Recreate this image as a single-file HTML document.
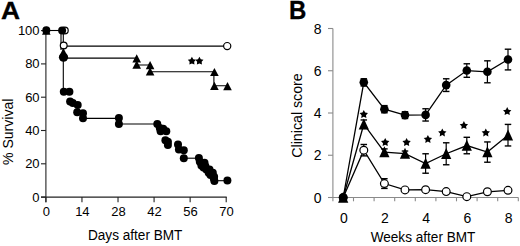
<!DOCTYPE html>
<html><head><meta charset="utf-8"><style>
html,body{margin:0;padding:0;background:#fff;width:520px;height:246px;overflow:hidden}
svg{display:block}
text{font-family:"Liberation Sans",sans-serif;fill:#000}
.t{font-size:13px}
.tl{font-size:13.6px}
.big{font-size:24px;font-weight:bold}
.star{font-size:11px}
</style></head><body>
<svg width="520" height="246" viewBox="0 0 520 246">
<line x1="45.9" y1="30.599999999999994" x2="45.9" y2="202.2" stroke="#222" stroke-width="1.1"/>
<line x1="41" y1="197.1" x2="226.70000000000002" y2="197.1" stroke="#222" stroke-width="1.1"/>
<line x1="41" y1="197.10" x2="45.9" y2="197.10" stroke="#222" stroke-width="1.1"/>
<text x="39.6" y="201.50" text-anchor="end" class="t">0</text>
<line x1="41" y1="163.80" x2="45.9" y2="163.80" stroke="#222" stroke-width="1.1"/>
<text x="39.6" y="168.20" text-anchor="end" class="t">20</text>
<line x1="41" y1="130.50" x2="45.9" y2="130.50" stroke="#222" stroke-width="1.1"/>
<text x="39.6" y="134.90" text-anchor="end" class="t">40</text>
<line x1="41" y1="97.20" x2="45.9" y2="97.20" stroke="#222" stroke-width="1.1"/>
<text x="39.6" y="101.60" text-anchor="end" class="t">60</text>
<line x1="41" y1="63.90" x2="45.9" y2="63.90" stroke="#222" stroke-width="1.1"/>
<text x="39.6" y="68.30" text-anchor="end" class="t">80</text>
<line x1="41" y1="30.60" x2="45.9" y2="30.60" stroke="#222" stroke-width="1.1"/>
<text x="39.6" y="35.00" text-anchor="end" class="t">100</text>
<line x1="45.90" y1="197.1" x2="45.90" y2="202.2" stroke="#222" stroke-width="1.1"/>
<text x="46.30" y="216.4" text-anchor="middle" class="t">0</text>
<line x1="81.96" y1="197.1" x2="81.96" y2="202.2" stroke="#222" stroke-width="1.1"/>
<text x="82.36" y="216.4" text-anchor="middle" class="t">14</text>
<line x1="118.02" y1="197.1" x2="118.02" y2="202.2" stroke="#222" stroke-width="1.1"/>
<text x="118.42" y="216.4" text-anchor="middle" class="t">28</text>
<line x1="154.08" y1="197.1" x2="154.08" y2="202.2" stroke="#222" stroke-width="1.1"/>
<text x="154.48" y="216.4" text-anchor="middle" class="t">42</text>
<line x1="190.14" y1="197.1" x2="190.14" y2="202.2" stroke="#222" stroke-width="1.1"/>
<text x="190.54" y="216.4" text-anchor="middle" class="t">56</text>
<line x1="226.20" y1="197.1" x2="226.20" y2="202.2" stroke="#222" stroke-width="1.1"/>
<text x="226.60" y="216.4" text-anchor="middle" class="t">70</text>
<text transform="translate(135.2,239.6) scale(1,1.07)" text-anchor="middle" class="tl">Days after BMT</text>
<text transform="translate(13.4,131.8) rotate(-90) scale(1,1.05)" text-anchor="middle" class="tl" style="font-size:14.1px">% Survival</text>
<text transform="translate(0.9,18.6) scale(1.1,1.03)" class="big" stroke="#000" stroke-width="0.3">A</text>
<polyline points="46.00,30.50 63.10,30.50" fill="none" stroke="#000" stroke-width="1.1"/>
<polyline points="63.30,30.50 63.30,91.70" fill="none" stroke="#000" stroke-width="1.1"/>
<polyline points="61.00,30.50 61.00,50.00" fill="none" stroke="#000" stroke-width="1.1"/>
<polyline points="63.70,46.10 227.00,46.10" fill="none" stroke="#000" stroke-width="1.1"/>
<polyline points="63.10,58.10 136.70,58.10 136.70,65.00 150.10,65.00 150.10,71.70 213.90,71.70 213.90,85.80 227.30,85.80" fill="none" stroke="#000" stroke-width="1.1"/>
<polyline points="83.00,118.40 118.90,118.40" fill="none" stroke="#000" stroke-width="1.1"/>
<polyline points="118.90,124.00 157.30,124.00" fill="none" stroke="#000" stroke-width="1.1"/>
<polyline points="183.80,158.20 198.90,158.20" fill="none" stroke="#000" stroke-width="1.1"/>
<polyline points="214.40,180.70 227.40,180.70" fill="none" stroke="#000" stroke-width="1.1"/>
<circle cx="64.8" cy="30.5" r="3.4" fill="#fff" stroke="#000" stroke-width="1.2"/>
<circle cx="63.7" cy="45.5" r="3.4" fill="#fff" stroke="#000" stroke-width="1.2"/>
<circle cx="227.2" cy="46.1" r="3.6" fill="#fff" stroke="#000" stroke-width="1.2"/>
<polygon points="42.00,34.80 50.60,34.80 46.30,26.60" fill="#000"/>
<polygon points="58.90,57.20 67.90,57.20 63.40,47.80" fill="#000"/>
<polygon points="132.40,62.50 141.00,62.50 136.70,54.30" fill="#000"/>
<polygon points="132.40,68.70 141.00,68.70 136.70,60.50" fill="#000"/>
<polygon points="145.80,69.30 154.40,69.30 150.10,61.10" fill="#000"/>
<polygon points="145.80,75.40 154.40,75.40 150.10,67.20" fill="#000"/>
<polygon points="210.10,76.10 218.70,76.10 214.40,67.90" fill="#000"/>
<polygon points="210.10,90.00 218.70,90.00 214.40,81.80" fill="#000"/>
<polygon points="223.20,90.30 231.80,90.30 227.50,82.10" fill="#000"/>
<circle cx="46.3" cy="30.2" r="4.0" fill="#000"/>
<circle cx="62.1" cy="30.5" r="4.0" fill="#000"/>
<circle cx="63.8" cy="91.7" r="4.0" fill="#000"/>
<circle cx="69.4" cy="91.7" r="4.0" fill="#000"/>
<circle cx="70.1" cy="101.5" r="4.0" fill="#000"/>
<circle cx="72.8" cy="103" r="4.0" fill="#000"/>
<circle cx="77.7" cy="105.1" r="4.0" fill="#000"/>
<circle cx="77.2" cy="112.2" r="4.0" fill="#000"/>
<circle cx="83" cy="113.3" r="4.0" fill="#000"/>
<circle cx="83" cy="118.3" r="4.0" fill="#000"/>
<circle cx="118.9" cy="118.1" r="4.0" fill="#000"/>
<circle cx="118.9" cy="123.9" r="4.0" fill="#000"/>
<circle cx="157.3" cy="124" r="4.0" fill="#000"/>
<circle cx="159.8" cy="128" r="4.0" fill="#000"/>
<circle cx="160.6" cy="131.3" r="4.0" fill="#000"/>
<circle cx="163.2" cy="128.8" r="4.0" fill="#000"/>
<circle cx="166.3" cy="131.3" r="4.0" fill="#000"/>
<circle cx="165.4" cy="140.2" r="4.0" fill="#000"/>
<circle cx="167.9" cy="141.8" r="4.0" fill="#000"/>
<circle cx="167.9" cy="145" r="4.0" fill="#000"/>
<circle cx="178.0" cy="144.6" r="4.0" fill="#000"/>
<circle cx="178.9" cy="149.5" r="4.0" fill="#000"/>
<circle cx="183.8" cy="150.2" r="4.0" fill="#000"/>
<circle cx="183.8" cy="158.3" r="4.0" fill="#000"/>
<circle cx="198.9" cy="158.1" r="4.0" fill="#000"/>
<circle cx="199.8" cy="161.7" r="4.0" fill="#000"/>
<circle cx="201.4" cy="165.4" r="4.0" fill="#000"/>
<circle cx="203.5" cy="167.5" r="4.0" fill="#000"/>
<circle cx="205.4" cy="166.3" r="4.0" fill="#000"/>
<circle cx="206.3" cy="169.5" r="4.0" fill="#000"/>
<circle cx="204.5" cy="162.8" r="4.0" fill="#000"/>
<circle cx="209.5" cy="169.5" r="4.0" fill="#000"/>
<circle cx="208.7" cy="172.8" r="4.0" fill="#000"/>
<circle cx="210.5" cy="175" r="4.0" fill="#000"/>
<circle cx="212.8" cy="172.8" r="4.0" fill="#000"/>
<circle cx="213.8" cy="178.5" r="4.0" fill="#000"/>
<circle cx="214.1" cy="176.8" r="4.0" fill="#000"/>
<circle cx="214.4" cy="180.9" r="4.0" fill="#000"/>
<circle cx="227.4" cy="180.6" r="4.0" fill="#000"/>
<circle cx="63.5" cy="57.2" r="4.6" fill="#000"/>
<polygon points="191.90,56.81 193.29,59.20 195.99,59.78 194.15,61.84 194.43,64.59 191.90,63.48 189.37,64.59 189.65,61.84 187.81,59.78 190.51,59.20" fill="#000"/>
<polygon points="199.40,56.81 200.79,59.20 203.49,59.78 201.65,61.84 201.93,64.59 199.40,63.48 196.87,64.59 197.15,61.84 195.31,59.78 198.01,59.20" fill="#000"/>
<line x1="332.9" y1="28.5" x2="332.9" y2="201.3" stroke="#8a8a8a" stroke-width="1.1"/>
<line x1="328" y1="197.5" x2="518.3" y2="197.5" stroke="#8a8a8a" stroke-width="1.1"/>
<line x1="328" y1="197.50" x2="332.9" y2="197.50" stroke="#8a8a8a" stroke-width="1.1"/>
<text x="321.6" y="202.60" text-anchor="end" class="t" style="font-size:14px">0</text>
<line x1="328" y1="155.25" x2="332.9" y2="155.25" stroke="#8a8a8a" stroke-width="1.1"/>
<text x="321.6" y="160.35" text-anchor="end" class="t" style="font-size:14px">2</text>
<line x1="328" y1="113.00" x2="332.9" y2="113.00" stroke="#8a8a8a" stroke-width="1.1"/>
<text x="321.6" y="118.10" text-anchor="end" class="t" style="font-size:14px">4</text>
<line x1="328" y1="70.75" x2="332.9" y2="70.75" stroke="#8a8a8a" stroke-width="1.1"/>
<text x="321.6" y="75.85" text-anchor="end" class="t" style="font-size:14px">6</text>
<line x1="328" y1="28.50" x2="332.9" y2="28.50" stroke="#8a8a8a" stroke-width="1.1"/>
<text x="321.6" y="33.60" text-anchor="end" class="t" style="font-size:14px">8</text>
<line x1="353.50" y1="197.5" x2="353.50" y2="201.3" stroke="#8a8a8a" stroke-width="1.1"/>
<line x1="374.10" y1="197.5" x2="374.10" y2="201.3" stroke="#8a8a8a" stroke-width="1.1"/>
<line x1="394.70" y1="197.5" x2="394.70" y2="201.3" stroke="#8a8a8a" stroke-width="1.1"/>
<line x1="415.30" y1="197.5" x2="415.30" y2="201.3" stroke="#8a8a8a" stroke-width="1.1"/>
<line x1="435.90" y1="197.5" x2="435.90" y2="201.3" stroke="#8a8a8a" stroke-width="1.1"/>
<line x1="456.50" y1="197.5" x2="456.50" y2="201.3" stroke="#8a8a8a" stroke-width="1.1"/>
<line x1="477.10" y1="197.5" x2="477.10" y2="201.3" stroke="#8a8a8a" stroke-width="1.1"/>
<line x1="497.70" y1="197.5" x2="497.70" y2="201.3" stroke="#8a8a8a" stroke-width="1.1"/>
<line x1="518.30" y1="197.5" x2="518.30" y2="201.3" stroke="#8a8a8a" stroke-width="1.1"/>
<text transform="translate(343.80,223.0) scale(1,1.03)" text-anchor="middle" class="t" style="font-size:14px">0</text>
<text transform="translate(385.00,223.0) scale(1,1.03)" text-anchor="middle" class="t" style="font-size:14px">2</text>
<text transform="translate(426.20,223.0) scale(1,1.03)" text-anchor="middle" class="t" style="font-size:14px">4</text>
<text transform="translate(467.40,223.0) scale(1,1.03)" text-anchor="middle" class="t" style="font-size:14px">6</text>
<text transform="translate(508.60,223.0) scale(1,1.03)" text-anchor="middle" class="t" style="font-size:14px">8</text>
<text transform="translate(423,242) scale(1,1.07)" text-anchor="middle" class="tl">Weeks after BMT</text>
<text transform="translate(302.2,115.5) rotate(-90) scale(1,1.07)" text-anchor="middle" class="tl" style="font-size:14.2px">Clinical score</text>
<text transform="translate(289.1,18.7) scale(1,1.05)" class="big" stroke="#000" stroke-width="0.3">B</text>
<polyline points="343.20,197.50 363.80,150.18 384.40,183.56 405.00,189.90 425.60,189.68 446.20,191.59 466.80,196.66 487.40,191.80 508.00,190.32" fill="none" stroke="#000" stroke-width="1.3"/>
<polyline points="343.20,197.50 363.80,124.20 384.40,152.08 405.00,153.56 425.60,163.49 446.20,153.77 466.80,145.53 487.40,152.08 508.00,135.18" fill="none" stroke="#000" stroke-width="1.3"/>
<polyline points="343.20,197.50 363.80,82.37 384.40,109.20 405.00,115.11 425.60,114.90 446.20,85.11 466.80,70.54 487.40,71.81 508.00,59.55" fill="none" stroke="#000" stroke-width="1.3"/>
<line x1="363.80" y1="144.48" x2="363.80" y2="155.88" stroke="#000" stroke-width="1.2"/>
<line x1="360.55" y1="144.48" x2="367.05" y2="144.48" stroke="#000" stroke-width="1.4"/>
<line x1="360.55" y1="155.88" x2="367.05" y2="155.88" stroke="#000" stroke-width="1.4"/>
<line x1="384.40" y1="178.70" x2="384.40" y2="188.42" stroke="#000" stroke-width="1.2"/>
<line x1="381.15" y1="178.70" x2="387.65" y2="178.70" stroke="#000" stroke-width="1.4"/>
<line x1="381.15" y1="188.42" x2="387.65" y2="188.42" stroke="#000" stroke-width="1.4"/>
<line x1="405.00" y1="188.84" x2="405.00" y2="190.95" stroke="#000" stroke-width="1.2"/>
<line x1="401.75" y1="188.84" x2="408.25" y2="188.84" stroke="#000" stroke-width="1.4"/>
<line x1="401.75" y1="190.95" x2="408.25" y2="190.95" stroke="#000" stroke-width="1.4"/>
<line x1="425.60" y1="188.63" x2="425.60" y2="190.74" stroke="#000" stroke-width="1.2"/>
<line x1="422.35" y1="188.63" x2="428.85" y2="188.63" stroke="#000" stroke-width="1.4"/>
<line x1="422.35" y1="190.74" x2="428.85" y2="190.74" stroke="#000" stroke-width="1.4"/>
<line x1="446.20" y1="190.53" x2="446.20" y2="192.64" stroke="#000" stroke-width="1.2"/>
<line x1="442.95" y1="190.53" x2="449.45" y2="190.53" stroke="#000" stroke-width="1.4"/>
<line x1="442.95" y1="192.64" x2="449.45" y2="192.64" stroke="#000" stroke-width="1.4"/>
<line x1="466.80" y1="195.60" x2="466.80" y2="197.71" stroke="#000" stroke-width="1.2"/>
<line x1="463.55" y1="195.60" x2="470.05" y2="195.60" stroke="#000" stroke-width="1.4"/>
<line x1="463.55" y1="197.71" x2="470.05" y2="197.71" stroke="#000" stroke-width="1.4"/>
<line x1="487.40" y1="190.74" x2="487.40" y2="192.85" stroke="#000" stroke-width="1.2"/>
<line x1="484.15" y1="190.74" x2="490.65" y2="190.74" stroke="#000" stroke-width="1.4"/>
<line x1="484.15" y1="192.85" x2="490.65" y2="192.85" stroke="#000" stroke-width="1.4"/>
<line x1="508.00" y1="189.26" x2="508.00" y2="191.37" stroke="#000" stroke-width="1.2"/>
<line x1="504.75" y1="189.26" x2="511.25" y2="189.26" stroke="#000" stroke-width="1.4"/>
<line x1="504.75" y1="191.37" x2="511.25" y2="191.37" stroke="#000" stroke-width="1.4"/>
<circle cx="343.2" cy="197.5" r="3.9" fill="#fff" stroke="#000" stroke-width="1.2"/>
<circle cx="363.79999999999995" cy="150.18" r="3.9" fill="#fff" stroke="#000" stroke-width="1.2"/>
<circle cx="384.4" cy="183.5575" r="3.9" fill="#fff" stroke="#000" stroke-width="1.2"/>
<circle cx="405.0" cy="189.895" r="3.9" fill="#fff" stroke="#000" stroke-width="1.2"/>
<circle cx="425.59999999999997" cy="189.68375" r="3.9" fill="#fff" stroke="#000" stroke-width="1.2"/>
<circle cx="446.2" cy="191.585" r="3.9" fill="#fff" stroke="#000" stroke-width="1.2"/>
<circle cx="466.79999999999995" cy="196.655" r="3.9" fill="#fff" stroke="#000" stroke-width="1.2"/>
<circle cx="487.4" cy="191.79625" r="3.9" fill="#fff" stroke="#000" stroke-width="1.2"/>
<circle cx="508.0" cy="190.3175" r="3.9" fill="#fff" stroke="#000" stroke-width="1.2"/>
<polygon points="338.10,202.70 348.30,202.70 343.20,191.70" fill="#000"/>
<line x1="363.80" y1="119.97" x2="363.80" y2="128.42" stroke="#000" stroke-width="1.2"/>
<line x1="360.55" y1="119.97" x2="367.05" y2="119.97" stroke="#000" stroke-width="1.4"/>
<line x1="360.55" y1="128.42" x2="367.05" y2="128.42" stroke="#000" stroke-width="1.4"/>
<polygon points="358.70,129.40 368.90,129.40 363.80,118.40" fill="#000"/>
<line x1="384.40" y1="148.91" x2="384.40" y2="155.25" stroke="#000" stroke-width="1.2"/>
<line x1="381.15" y1="148.91" x2="387.65" y2="148.91" stroke="#000" stroke-width="1.4"/>
<line x1="381.15" y1="155.25" x2="387.65" y2="155.25" stroke="#000" stroke-width="1.4"/>
<polygon points="379.30,157.28 389.50,157.28 384.40,146.28" fill="#000"/>
<line x1="405.00" y1="151.03" x2="405.00" y2="156.09" stroke="#000" stroke-width="1.2"/>
<line x1="401.75" y1="151.03" x2="408.25" y2="151.03" stroke="#000" stroke-width="1.4"/>
<line x1="401.75" y1="156.09" x2="408.25" y2="156.09" stroke="#000" stroke-width="1.4"/>
<polygon points="399.90,158.76 410.10,158.76 405.00,147.76" fill="#000"/>
<line x1="425.60" y1="153.77" x2="425.60" y2="173.21" stroke="#000" stroke-width="1.2"/>
<line x1="422.35" y1="153.77" x2="428.85" y2="153.77" stroke="#000" stroke-width="1.4"/>
<line x1="422.35" y1="173.21" x2="428.85" y2="173.21" stroke="#000" stroke-width="1.4"/>
<polygon points="420.50,168.69 430.70,168.69 425.60,157.69" fill="#000"/>
<line x1="446.20" y1="142.79" x2="446.20" y2="164.76" stroke="#000" stroke-width="1.2"/>
<line x1="442.95" y1="142.79" x2="449.45" y2="142.79" stroke="#000" stroke-width="1.4"/>
<line x1="442.95" y1="164.76" x2="449.45" y2="164.76" stroke="#000" stroke-width="1.4"/>
<polygon points="441.10,158.97 451.30,158.97 446.20,147.97" fill="#000"/>
<line x1="466.80" y1="137.29" x2="466.80" y2="153.77" stroke="#000" stroke-width="1.2"/>
<line x1="463.55" y1="137.29" x2="470.05" y2="137.29" stroke="#000" stroke-width="1.4"/>
<line x1="463.55" y1="153.77" x2="470.05" y2="153.77" stroke="#000" stroke-width="1.4"/>
<polygon points="461.70,150.73 471.90,150.73 466.80,139.73" fill="#000"/>
<line x1="487.40" y1="141.94" x2="487.40" y2="162.22" stroke="#000" stroke-width="1.2"/>
<line x1="484.15" y1="141.94" x2="490.65" y2="141.94" stroke="#000" stroke-width="1.4"/>
<line x1="484.15" y1="162.22" x2="490.65" y2="162.22" stroke="#000" stroke-width="1.4"/>
<polygon points="482.30,157.28 492.50,157.28 487.40,146.28" fill="#000"/>
<line x1="508.00" y1="124.41" x2="508.00" y2="145.96" stroke="#000" stroke-width="1.2"/>
<line x1="504.75" y1="124.41" x2="511.25" y2="124.41" stroke="#000" stroke-width="1.4"/>
<line x1="504.75" y1="145.96" x2="511.25" y2="145.96" stroke="#000" stroke-width="1.4"/>
<polygon points="502.90,140.38 513.10,140.38 508.00,129.38" fill="#000"/>
<circle cx="343.2" cy="197.5" r="4.3" fill="#000"/>
<line x1="363.80" y1="78.78" x2="363.80" y2="85.96" stroke="#000" stroke-width="1.2"/>
<line x1="360.55" y1="78.78" x2="367.05" y2="78.78" stroke="#000" stroke-width="1.4"/>
<line x1="360.55" y1="85.96" x2="367.05" y2="85.96" stroke="#000" stroke-width="1.4"/>
<circle cx="363.79999999999995" cy="82.36874999999999" r="4.3" fill="#000"/>
<line x1="384.40" y1="105.61" x2="384.40" y2="112.79" stroke="#000" stroke-width="1.2"/>
<line x1="381.15" y1="105.61" x2="387.65" y2="105.61" stroke="#000" stroke-width="1.4"/>
<line x1="381.15" y1="112.79" x2="387.65" y2="112.79" stroke="#000" stroke-width="1.4"/>
<circle cx="384.4" cy="109.1975" r="4.3" fill="#000"/>
<line x1="405.00" y1="111.73" x2="405.00" y2="118.49" stroke="#000" stroke-width="1.2"/>
<line x1="401.75" y1="111.73" x2="408.25" y2="111.73" stroke="#000" stroke-width="1.4"/>
<line x1="401.75" y1="118.49" x2="408.25" y2="118.49" stroke="#000" stroke-width="1.4"/>
<circle cx="405.0" cy="115.1125" r="4.3" fill="#000"/>
<line x1="425.60" y1="108.77" x2="425.60" y2="121.03" stroke="#000" stroke-width="1.2"/>
<line x1="422.35" y1="108.77" x2="428.85" y2="108.77" stroke="#000" stroke-width="1.4"/>
<line x1="422.35" y1="121.03" x2="428.85" y2="121.03" stroke="#000" stroke-width="1.4"/>
<circle cx="425.59999999999997" cy="114.90124999999999" r="4.3" fill="#000"/>
<line x1="446.20" y1="78.78" x2="446.20" y2="91.45" stroke="#000" stroke-width="1.2"/>
<line x1="442.95" y1="78.78" x2="449.45" y2="78.78" stroke="#000" stroke-width="1.4"/>
<line x1="442.95" y1="91.45" x2="449.45" y2="91.45" stroke="#000" stroke-width="1.4"/>
<circle cx="446.2" cy="85.115" r="4.3" fill="#000"/>
<line x1="466.80" y1="63.78" x2="466.80" y2="77.30" stroke="#000" stroke-width="1.2"/>
<line x1="463.55" y1="63.78" x2="470.05" y2="63.78" stroke="#000" stroke-width="1.4"/>
<line x1="463.55" y1="77.30" x2="470.05" y2="77.30" stroke="#000" stroke-width="1.4"/>
<circle cx="466.79999999999995" cy="70.53875000000001" r="4.3" fill="#000"/>
<line x1="487.40" y1="60.82" x2="487.40" y2="82.79" stroke="#000" stroke-width="1.2"/>
<line x1="484.15" y1="60.82" x2="490.65" y2="60.82" stroke="#000" stroke-width="1.4"/>
<line x1="484.15" y1="82.79" x2="490.65" y2="82.79" stroke="#000" stroke-width="1.4"/>
<circle cx="487.4" cy="71.80624999999999" r="4.3" fill="#000"/>
<line x1="508.00" y1="49.20" x2="508.00" y2="69.91" stroke="#000" stroke-width="1.2"/>
<line x1="504.75" y1="49.20" x2="511.25" y2="49.20" stroke="#000" stroke-width="1.4"/>
<line x1="504.75" y1="69.91" x2="511.25" y2="69.91" stroke="#000" stroke-width="1.4"/>
<circle cx="508.0" cy="59.55375000000001" r="4.3" fill="#000"/>
<polygon points="363.80,110.02 365.14,112.57 367.98,113.06 365.98,115.13 366.39,117.98 363.80,116.71 361.21,117.98 361.62,115.13 359.62,113.06 362.46,112.57" fill="#000"/>
<polygon points="385.20,138.02 386.54,140.57 389.38,141.06 387.38,143.13 387.79,145.98 385.20,144.71 382.61,145.98 383.02,143.13 381.02,141.06 383.86,140.57" fill="#000"/>
<polygon points="406.60,138.02 407.94,140.57 410.78,141.06 408.78,143.13 409.19,145.98 406.60,144.71 404.01,145.98 404.42,143.13 402.42,141.06 405.26,140.57" fill="#000"/>
<polygon points="427.90,134.92 429.24,137.47 432.08,137.96 430.08,140.03 430.49,142.88 427.90,141.61 425.31,142.88 425.72,140.03 423.72,137.96 426.56,137.47" fill="#000"/>
<polygon points="442.30,128.42 443.64,130.97 446.48,131.46 444.48,133.53 444.89,136.38 442.30,135.11 439.71,136.38 440.12,133.53 438.12,131.46 440.96,130.97" fill="#000"/>
<polygon points="463.90,121.12 465.24,123.67 468.08,124.16 466.08,126.23 466.49,129.08 463.90,127.81 461.31,129.08 461.72,126.23 459.72,124.16 462.56,123.67" fill="#000"/>
<polygon points="485.80,128.42 487.14,130.97 489.98,131.46 487.98,133.53 488.39,136.38 485.80,135.11 483.21,136.38 483.62,133.53 481.62,131.46 484.46,130.97" fill="#000"/>
<polygon points="507.20,107.12 508.54,109.67 511.38,110.16 509.38,112.23 509.79,115.08 507.20,113.81 504.61,115.08 505.02,112.23 503.02,110.16 505.86,109.67" fill="#000"/>
</svg>
</body></html>
